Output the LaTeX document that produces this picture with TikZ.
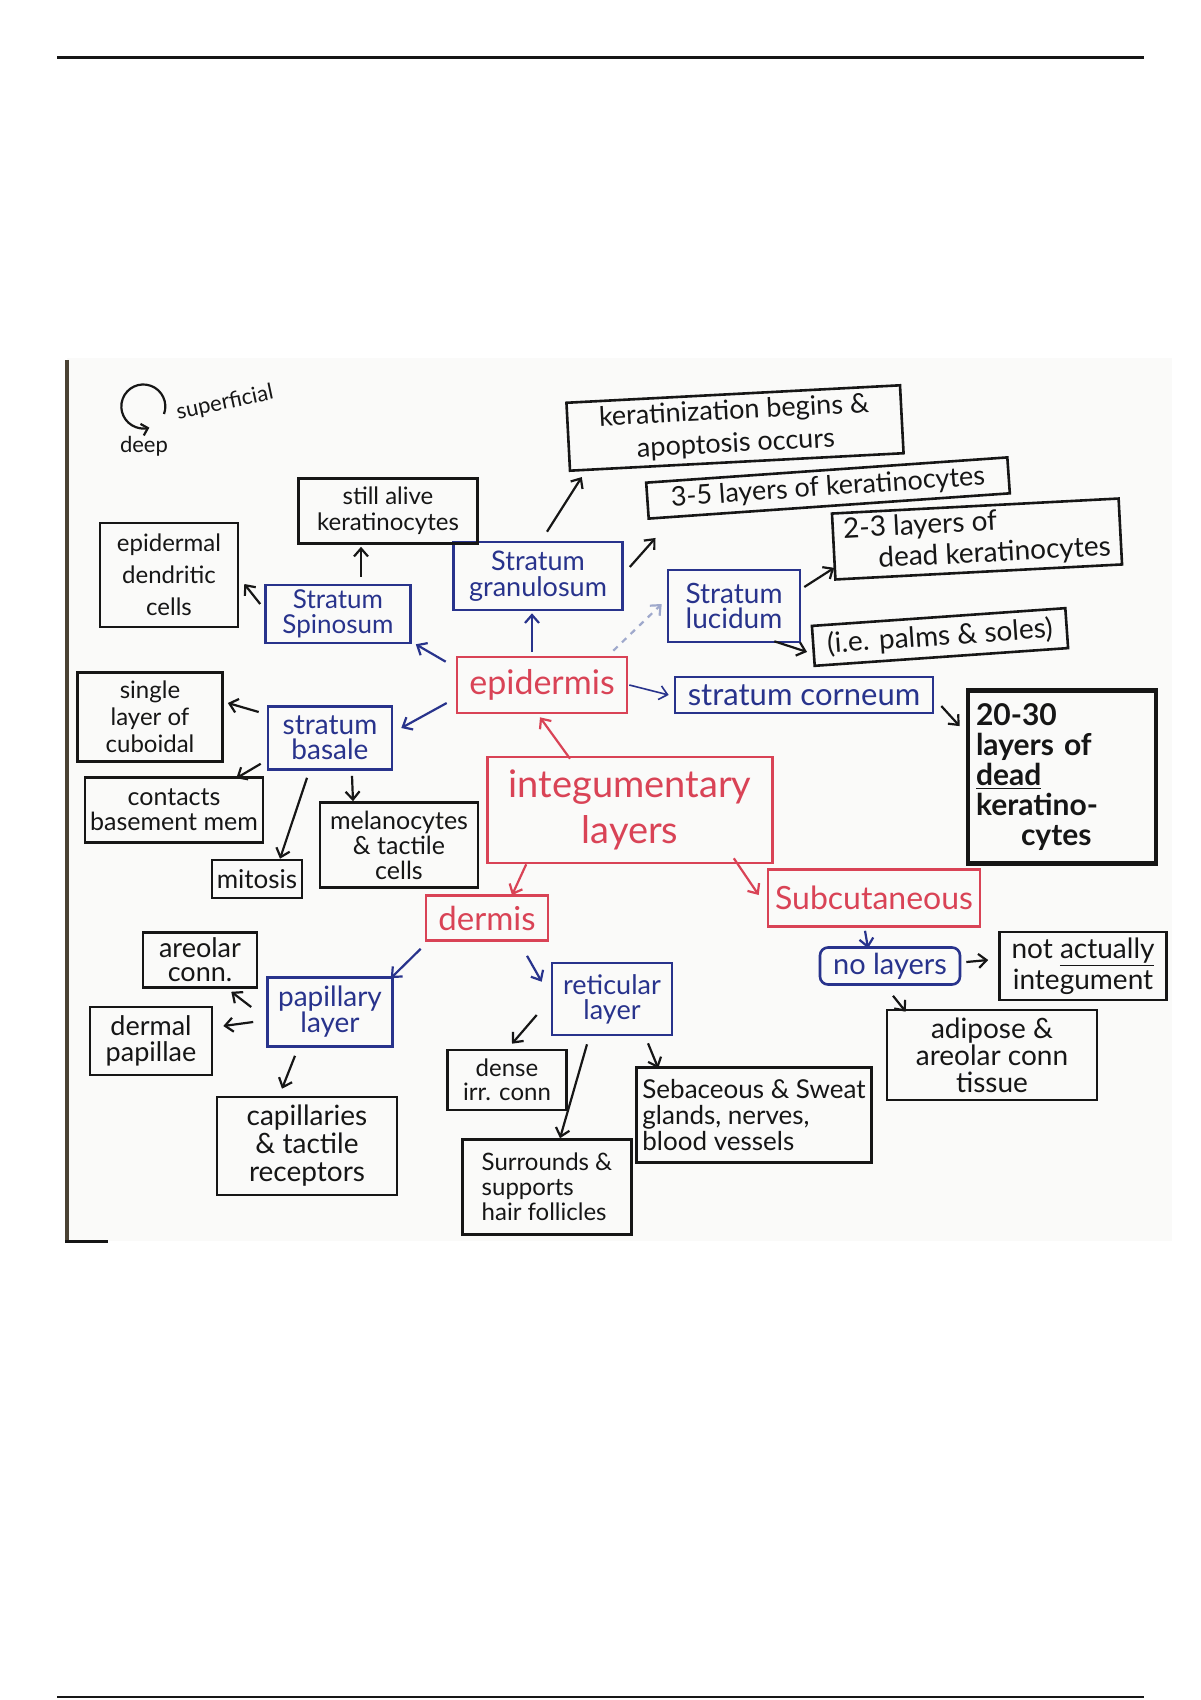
\documentclass[tikz,border=0pt]{standalone}
\usepackage{fontspec}
\setmainfont{Lato}
\usepackage{xcolor}
\usepackage{tikz}
\usetikzlibrary{arrows.meta}
\definecolor{ink}{HTML}{161616}
\definecolor{navy}{HTML}{28338C}
\definecolor{marker}{HTML}{D94356}
\definecolor{haze}{HTML}{9FA9CC}
\definecolor{photo}{HTML}{FAFAF9}
\definecolor{edge}{HTML}{4A4234}
\tikzset{
  box/.style={draw=ink, text=ink, line width=1.3pt, inner sep=0pt, align=center},
  bluebox/.style={box, draw=navy, text=navy},
  redbox/.style={box, draw=marker, text=marker},
  wh/.style 2 args={minimum width=#1*0.5pt, minimum height=#2*0.5pt},
  fs/.style 2 args={font=\fontsize{#1}{#2}\selectfont},
  blk/.style={draw=ink, line width=1.1pt, -{Straight Barb[length=4pt,width=7pt]}},
  bluarr/.style={blk, draw=navy},
  redarr/.style={blk, draw=marker},
  dasharr/.style={blk, draw=haze, dashed},
}

\begin{document}
\begin{tikzpicture}[x=0.5pt, y=-0.5pt]
\useasboundingbox (0,0) rectangle (1200,1700);
\fill[white] (0,0) rectangle (1200,1700);
% page and photo
\draw[ink, line width=1.5pt] (57,58) -- (1144,58);
\draw[ink, line width=1.2pt] (57,1697) -- (1144,1697);
\fill[photo] (67,358) rectangle (1172,1241);
\draw[edge, line width=2pt] (67,360) -- (67,1240);
\draw[ink, line width=1.5pt] (65,1241) -- (108,1241);

% legend
\draw[blk, -{Straight Barb[length=3pt,width=6pt]}] (164,414) arc[start angle=-20, end angle=286, radius=11pt];
\node[rotate=12, fs={11}{11}, text=ink] (superficial) at (225,403) {superficial};
\node[fs={11}{11}, text=ink] (deep) at (144,446) {deep};

% main
\node[redbox, wh={285}{106}, fs={19}{23}] (integ) at (630,810) {integumentary\\layers};
\node[redbox, wh={170}{56}, fs={17}{17}] (epidermis) at (542,685) {epidermis};
\node[redbox, wh={122}{45}, fs={16.5}{16}] (dermis) at (487,918) {dermis};
\node[redbox, wh={212}{57}, fs={16}{16}] (subcut) at (874,898) {Subcutaneous};

% epidermis
\node[bluebox, wh={145}{58}, fs={13}{12.5}] (spinosum) at (338,614) {Stratum\\Spinosum};
\node[bluebox, wh={169}{68}, fs={13.5}{13}] (granulosum) at (538,576) {Stratum\\granulosum};
\node[bluebox, wh={132}{72}, fs={14}{12.5}] (lucidum) at (734,606) {Stratum\\lucidum};
\node[bluebox, wh={258}{36}, fs={15.5}{15}] (corneum) at (804,695) {stratum corneum};
\node[bluebox, wh={124}{63}, fs={14}{12.5}] (basale) at (330,738) {stratum\\basale};
\node[box, wh={138}{104}, fs={12}{16}] (dendritic) at (169,575) {epidermal\\dendritic\\cells};
\node[box, wh={179}{65}, fs={12}{13}] (alive) at (388,511) {still alive\\keratinocytes};
\node[box, wh={334}{68}, fs={13.5}{16.5}, rotate=3] (kerat) at (735,428) {keratinization begins \&\\apoptosis occurs};
\node[box, wh={362}{36}, fs={13.5}{14}, rotate=4] (three) at (828,488) {3-5 layers of keratinocytes};
\node[box, wh={287}{66}, fs={14}{15.5}, rotate=3, align=left] (twothree) at (977,539) {2-3 layers of\\\hspace{1.2em}dead keratinocytes};
\node[box, wh={254}{40}, fs={14}{14}, rotate=4] (palms) at (940,637) {(i.e. palms \& soles)};
\node[box, line width=2.4pt, text width=86pt, inner xsep=4pt, minimum height=86.5pt, font=\fontsize{15}{15}\selectfont\bfseries, align=left] (dead) at (1062,777) {20-30\\layers of\\\underline{dead}\\keratino-\\\hspace{1.5em}cytes};
\node[box, wh={145}{89}, fs={12}{13.5}] (single) at (150,717) {single\\layer of\\cuboidal};
\node[box, wh={178}{65}, fs={12.5}{12.5}] (contacts) at (174,810) {contacts\\basement mem};
\node[box, wh={90}{38}, fs={13}{13}] (mitosis) at (257,879) {mitosis};
\node[box, wh={158}{85}, fs={12.5}{12.5}] (melano) at (399,845) {melanocytes\\\& tactile\\cells};

% dermis
\node[bluebox, wh={125}{69}, fs={14}{13}] (papillary) at (330,1012) {papillary\\layer};
\node[bluebox, wh={120}{72}, fs={13.5}{12.5}] (reticular) at (612,999) {reticular\\layer};
\node[box, wh={114}{55}, fs={13.5}{12}] (areolar) at (200,960) {areolar\\conn.};
\node[box, wh={122}{68}, fs={13.5}{13}] (dpap) at (151,1041) {dermal\\papillae};
\node[box, wh={180}{98}, fs={14}{14}] (capill) at (307,1146) {capillaries\\\& tactile\\receptors};
\node[box, wh={119}{60}, fs={12}{12}] (dense) at (507,1080) {dense\\irr. conn};
\node[box, wh={169}{95}, fs={12}{12.5}, align=left] (surrounds) at (547,1187) {Surrounds \&\\supports\\hair follicles};
\node[box, wh={235}{95}, fs={13}{13}, align=left] (sebaceous) at (754,1115) {Sebaceous \& Sweat\\glands, nerves,\\blood vessels};

% subcutaneous
\node[bluebox, wh={140}{37}, rounded corners=4pt, fs={14.5}{14}] (nolayers) at (890,966) {no layers};
\node[box, wh={167}{68}, fs={14}{12.5}] (notact) at (1083,966) {not \underline{actually}\\integument};
\node[box, wh={210}{90}, fs={14}{13.5}] (adipose) at (992,1055) {adipose \&\\areolar conn\\tissue};

% arrows
\draw[redarr] ([shift={(-60,3)}]integ.north) -- ([shift={(-2,3)}]epidermis.south);
\draw[redarr] ([shift={(40,0)}]integ.south west) -- ([shift={(25,1)}]dermis.north);
\draw[redarr] ([shift={(-40,-6)}]integ.south east) -- ([shift={(-8,-3)}]subcut.west);
\draw[bluarr] ([shift={(-10,6)}]epidermis.north west) -- ([shift={(4,0)}]spinosum.south east);
\draw[bluarr] ([shift={(-10,-4)}]epidermis.north) -- ([shift={(-6,2)}]granulosum.south);
\draw[dasharr] ([shift={(-15,-5)}]epidermis.north east) -- ([shift={(-5,-2)}]lucidum.west);
\draw[bluarr, line width=0.8pt] ([shift={(1,0)}]epidermis.east) -- ([shift={(-5,0)}]corneum.west);
\draw[bluarr] ([shift={(-9,18)}]epidermis.west) -- ([shift={(8,-10)}]basale.east);
\draw[blk] ([shift={(23,-7)}]spinosum.north) -- ([shift={(-27,2)}]alive.south);
\draw[blk] ([shift={(-4,-10)}]spinosum.west) -- ([shift={(5,9)}]dendritic.east);
\draw[blk] ([shift={(9,-9)}]granulosum.north) -- ([shift={(13,5)}]kerat.south west);
\draw[blk] ([shift={(6,-9)}]granulosum.east) -- ([shift={(8,18)}]three.south west);
\draw[blk] ([shift={(3,-19)}]lucidum.east) -- ([shift={(0,-13)}]twothree.south west);
\draw[blk] ([shift={(-27,-2)}]lucidum.south east) -- ([shift={(-5,6)}]palms.west);
\draw[blk] ([shift={(7,11)}]corneum.east) -- ([shift={(-6,38)}]dead.north west);
\draw[blk] ([shift={(-8,-26)}]basale.west) -- ([shift={(4,-14)}]single.east);
\draw[blk] ([shift={(-6,-7)}]basale.south west) -- ([shift={(-28,2)}]contacts.north east);
\draw[blk] ([shift={(-23,7)}]basale.south) -- ([shift={(23,0)}]mitosis.north);
\draw[blk] ([shift={(22,5)}]basale.south) -- ([shift={(-46,0)}]melano.north);
\draw[bluarr] ([shift={(-4,7)}]dermis.south west) -- ([shift={(-3,2)}]papillary.north east);
\draw[bluarr] ([shift={(40,14)}]dermis.south) -- ([shift={(-9,20)}]reticular.north west);
\draw[blk] ([shift={(-15,-5)}]papillary.west) -- ([shift={(-27,3)}]areolar.south east);
\draw[blk] ([shift={(-13,10)}]papillary.west) -- ([shift={(10,-15)}]dpap.east);
\draw[blk] ([shift={(-35,8)}]papillary.south) -- ([shift={(-25,-7)}]capill.north);
\draw[blk] ([shift={(-14,16)}]reticular.west) -- ([shift={(5,-5)}]dense.north);
\draw[blk] ([shift={(-25,8)}]reticular.south) -- ([shift={(13,0)}]surrounds.north);
\draw[blk] ([shift={(36,7)}]reticular.south) -- ([shift={(23,2)}]sebaceous.north west);
\draw[bluarr] ([shift={(-9,3)}]subcut.south) -- ([shift={(-22,2)}]nolayers.north);
\draw[blk] ([shift={(5,-4)}]nolayers.east) -- ([shift={(-10,-6)}]notact.west);
\draw[blk] ([shift={(3,10)}]nolayers.south) -- ([shift={(20,3)}]adipose.north west);
\end{tikzpicture}
\end{document}
